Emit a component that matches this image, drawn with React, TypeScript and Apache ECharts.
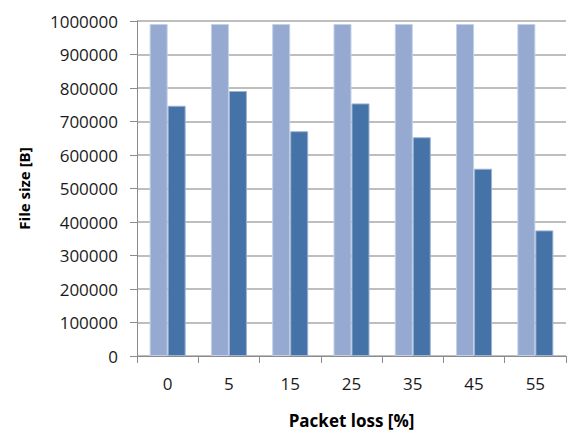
import React, { useEffect, useRef } from "react";
import * as echarts from "echarts";

const categories = ["0", "5", "15", "25", "35", "45", "55"];
const originalSize = [991000, 991000, 991000, 991000, 991000, 991000, 991000];
const receivedSize = [747000, 791000, 671000, 754000, 653000, 559000, 375000];

export default function App() {
  const ref = useRef<HTMLDivElement>(null);
  useEffect(() => {
    const chart = echarts.init(ref.current!, undefined, { renderer: "svg" });
    const font = "Open Sans";
    chart.setOption({
      animation: false,
      backgroundColor: "#ffffff",
      grid: { left: 137, right: 4, top: 21, bottom: 71, containLabel: false },
      xAxis: {
        type: "category",
        data: categories,
        name: "Packet loss [%]",
        nameLocation: "middle",
        nameGap: 56,
        nameTextStyle: { fontFamily: font, fontWeight: "bold", fontSize: 17, color: "#000" },
        axisLine: { lineStyle: { color: "#8c8c8c", width: 1 } },
        axisTick: { show: true, length: 7, alignWithLabel: false, lineStyle: { color: "#8c8c8c" } },
        axisLabel: { fontFamily: font, fontSize: 17, color: "#1a1a1a", margin: 19 },
      },
      yAxis: {
        type: "value",
        min: 0,
        max: 1000000,
        interval: 100000,
        name: "File size [B]",
        nameLocation: "middle",
        nameGap: 106,
        nameTextStyle: { fontFamily: font, fontWeight: "bold", fontSize: 15, color: "#000" },
        axisLine: { show: true, lineStyle: { color: "#8c8c8c", width: 1 } },
        axisTick: { show: true, length: 7, lineStyle: { color: "#8c8c8c" } },
        axisLabel: {
          fontFamily: font,
          fontSize: 17,
          color: "#1a1a1a",
          margin: 19,
          formatter: (v: number) => String(v),
        },
        splitLine: { lineStyle: { color: "#a8a8a8", width: 1.5 } },
      },
      series: [
        {
          type: "bar",
          data: originalSize,
          barWidth: 18,
          barGap: "0%",
          itemStyle: { color: "#95a9d1", borderColor: "#c3d0e8", borderWidth: 1 },
        },
        {
          type: "bar",
          data: receivedSize,
          barWidth: 18,
          itemStyle: { color: "#4573a7", borderColor: "#9cb3d3", borderWidth: 1 },
        },
      ],
    });
    return () => chart.dispose();
  }, []);
  return (
    <div
      ref={ref}
      style={{ position: "absolute", left: 0, top: 0, width: 570, height: 434 }}
    />
  );
}
